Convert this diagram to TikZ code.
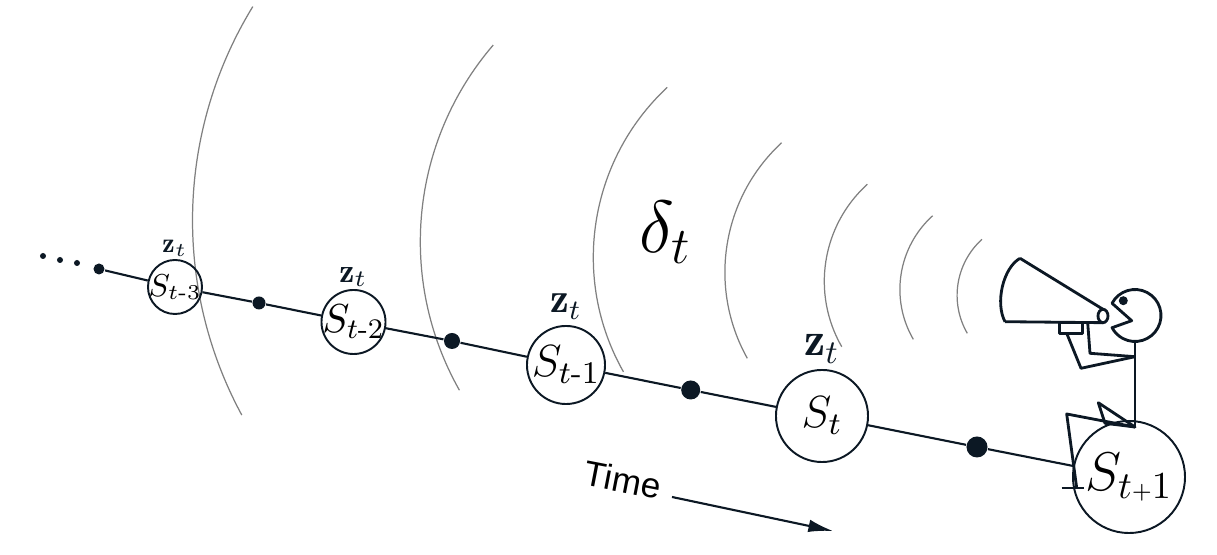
\documentclass[tikz,border=0pt]{standalone}
\usepackage{fix-cm}
\usepackage{amsmath}
\usepackage{fontspec}
\newfontfamily\timefont{Liberation Sans}
\usetikzlibrary{positioning,arrows.meta}
\definecolor{ink}{RGB}{12,24,36}
\tikzset{
	state/.style={circle, draw=ink, line width=0.55pt, inner sep=-4pt},
	obs/.style={circle, fill=ink, inner sep=0pt},
	zlab/.style={inner sep=0.5pt, text=ink},
	wave/.style={black!50, line width=0.35pt},
	link/.style={ink, line width=0.6pt},
	figure/.style={ink, line width=0.8pt, line join=round}
}
\begin{document}
\begin{tikzpicture}[x=0.01cm, y=0.01cm]
		\path[fill=white] (0,0) rectangle (1217,555);
		\useasboundingbox (0,0) rectangle (1217,555);
		\foreach \cx/\cy/\r/\a/\b in {601.7/334.6/409.2/148.5/208.4, 721.9/313.3/301.6/139.3/209.5, 825.7/297.6/232.4/133/209.5, 901.2/282.7/176.3/132.7/209.2, 955.4/273.6/131.1/132.2/209.9, 999.3/265.5/99.4/132.1/210.1, 1032.7/259.6/75.6/132.1/210.1}
			\draw[wave] (\cx,\cy) ++(\a:\r) arc[start angle=\a, end angle=\b, radius=\r];
		\node[obs, minimum size=0.06cm] (e1) at (43,299) {};
		\node[obs, minimum size=0.06cm] (e2) at (60,295) {};
		\node[obs, minimum size=0.06cm] (e3) at (77,292) {};
		\node[obs, minimum size=0.11cm] (d0) at (99,286) {};
		\node[state, minimum size=0.54cm, font=\fontsize{9}{10}\selectfont] (S3) at (175,268) {$S_{t\text{-}3}$};
		\node[obs, minimum size=0.13cm] (d1) at (259,252) {};
		\node[state, minimum size=0.64cm, font=\fontsize{11.5}{13}\selectfont] (S2) at (353.5,233) {$S_{t\text{-}2}$};
		\node[obs, minimum size=0.16cm] (d2) at (452,214) {};
		\node[state, minimum size=0.78cm, font=\fontsize{12.8}{15}\selectfont] (S1) at (566,190) {$S_{t\text{-}1}$};
		\node[obs, minimum size=0.19cm] (d3) at (690.7,165) {};
		\node[state, minimum size=0.92cm, font=\fontsize{12.8}{15}\selectfont] (S0) at (822,139) {$S_t$};
		\node[obs, minimum size=0.21cm] (d4) at (977,108) {};
		\node[state, minimum size=1.12cm, font=\fontsize{15.5}{18}\selectfont] (Sp) at (1129,78) {$S_{t\text{\fontsize{6.5}{7}\selectfont+}1}$};
		\node[zlab, above=0pt of S3, font=\fontsize{7.9}{9}\selectfont] (z3) {$\mathbf{z}_t$};
		\node[zlab, above=0pt of S2, font=\fontsize{9.6}{11}\selectfont] (z2) {$\mathbf{z}_t$};
		\node[zlab, above=1pt of S1, font=\fontsize{12}{14}\selectfont] (z1) {$\mathbf{z}_t$};
		\node[zlab, above=1pt of S0, font=\fontsize{13.5}{16}\selectfont] (z0) {$\mathbf{z}_t$};
		\node[font=\fontsize{21}{25}\selectfont] (delta) at (666,323) {$\delta_t$};
		\draw[link] (d0) -- (S3) -- (d1) -- (S2) -- (d2) -- (S1) -- (d3) -- (S0) -- (d4) -- (Sp);
		\node[rotate=-11, font=\timefont\fontsize{10}{12}\selectfont] (time) at (623,75) {Time};
		\coordinate (tA) at (672,58);
		\coordinate (tB) at (833,24);
		\draw[link, -{Latex[length=7pt, width=3.6pt]}] (tA) -- (tB);
		\coordinate (head) at (1135,239.5);
		\coordinate (neck) at (1135,213.5);
		\coordinate (shoulder) at (1135,198.3);
		\coordinate (hip) at (1135,128);
		\draw[figure] (1020,296.7) -- (1103,245.7) (1005,233.3) -- (1103,232.3);
		\draw[figure] (1020,296.7) .. controls (1003,287) and (995,252) .. (1005,233.3);
		\draw[figure, fill=white] (1103,239) ellipse[x radius=5, y radius=6.7];
		\draw[figure] (1059.3,232.3) rectangle (1082.3,221.7);
		\draw[figure] (1066.7,221.7) -- (1081,186.7) -- (shoulder);
		\draw[figure] (1087.7,232.3) -- (1090,201.7) -- (shoulder);
		\draw[figure] (head) ++(152:26) arc[start angle=152, end angle=-152, radius=26] -- (1131.7,234.3) -- cycle;
		\fill[ink] (1123.3,254.3) circle[radius=4.5];
		\draw[figure] (neck) -- (hip);
		\draw[figure] (hip) -- (1066.7,141) -- (1076.7,67);
		\draw[figure] (1061.7,67) -- (1084,67);
		\draw[figure] (hip) -- (1098.3,152.3) -- (1105,131.7) -- cycle;
	\end{tikzpicture}
\end{document}
